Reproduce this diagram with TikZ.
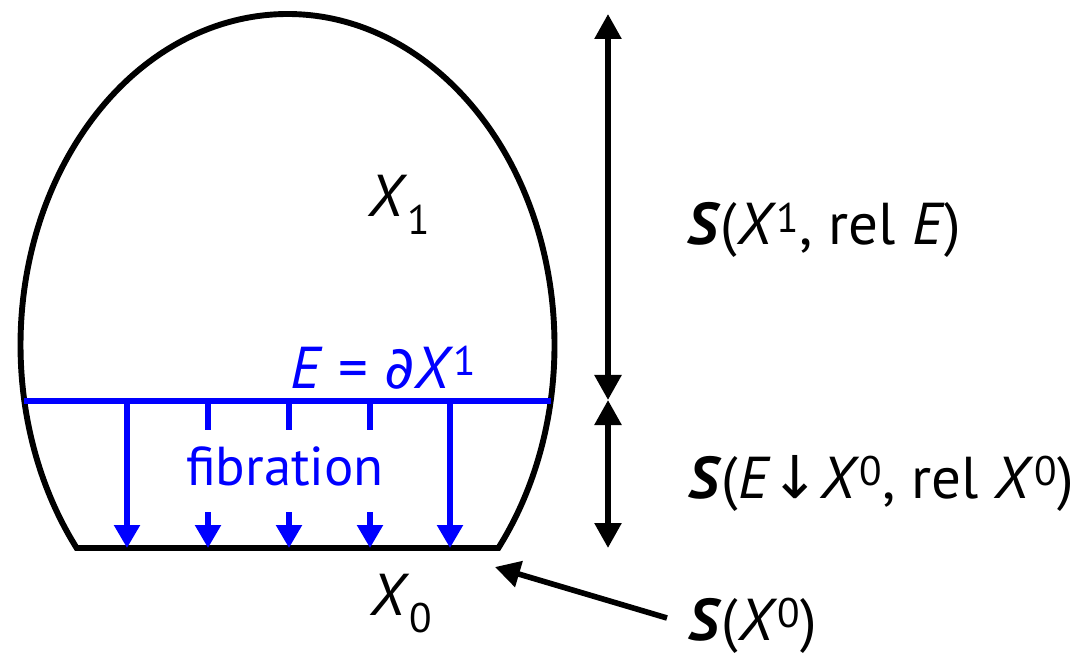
\documentclass[tikz,border=0pt]{standalone}
\usepackage{fontspec}
\setmainfont{PT Sans}
\newfontfamily\symfont{DejaVu Sans}
\usepackage{xcolor}
\usepackage{tikz}
\usetikzlibrary{arrows.meta,calc}
\definecolor{fibblue}{HTML}{0000FF}
\definecolor{fibink}{HTML}{000000}

\tikzset{
  lbl/.style={font=\fontsize{42}{50}\selectfont, text=fibink, inner sep=0pt},
  bluelbl/.style={lbl, text=fibblue},
  blk/.style={-{Triangle[length=0.625cm,width=0.65cm]}, line width=4pt, fibink},
  blkboth/.style={{Triangle[length=0.625cm,width=0.65cm]}-{Triangle[length=0.625cm,width=0.65cm]}, line width=4pt, fibink},
  fib/.style={-{Triangle[length=0.575cm,width=0.625cm]}, line width=3.8pt, fibblue},
  stub/.style={line width=3.8pt, fibblue}
}
\newcommand{\Sbf}{\textbf{\textit{S}}}

\begin{document}
\begin{tikzpicture}[x=1cm,y=1cm]
  \useasboundingbox (0,0) rectangle (26.95,16.5);

  % Outline of X
  \coordinate (c) at (7.1875,7.875);
  \draw[line width=4.2pt, fibink] ($(c)+(-37.83:6.675 and 8.275)$)
    arc[start angle=-37.83, end angle=217.83, x radius=6.675, y radius=8.275] -- cycle;

  % Boundary E
  \coordinate (eL) at ($(c)+(189.74:6.675 and 8.275)$);
  \coordinate (eR) at ($(c)+(-9.74:6.675 and 8.275)$);
  \draw[stub] (eL) -- (eR);

  % Fibres
  \foreach \x in {3.175,11.25} \draw[fib] (\x,6.475) -- (\x,2.8);
  \foreach \x in {5.2,7.225,9.25} {
    \draw[stub] (\x,6.475) -- (\x,5.75);
    \draw[fib] (\x,3.7) -- (\x,2.8);
  }

  % Labels inside
  \node[lbl, anchor=base west] (xone) at (9.2,11.075) {\textit{X}\textsubscript{1}};
  \node[bluelbl, anchor=base west] (edef) at (7.25,6.8) {\textit{E} = {\symfont\itshape ∂}\textit{X}\textsuperscript{1}};
  \node[bluelbl, anchor=base, font=\fontsize{39}{46}\selectfont] (fibtext) at (7.125,4.375) {fibration};
  \node[lbl, anchor=base west] (xzero) at (9.25,1.125) {\textit{X}\textsubscript{0}};

  % Right side: spaces
  \coordinate (top) at (15.2,16.15);
  \coordinate (mid) at (15.2,6.5);
  \coordinate (bot) at (15.2,2.8);
  \draw[blkboth] (top) -- (mid);
  \draw[blkboth] (mid) -- (bot);

  \node[lbl, anchor=base west] (srel) at (17.175,10.375) {\Sbf(\textit{X}\textsuperscript{1}, rel \textit{E})};
  \node[lbl, anchor=base west] (sfib) at (17.2,4.05) {\Sbf(\textit{E}{\symfont↓}\textit{X}\textsuperscript{0}, rel \textit{X}\textsuperscript{0})};
  \node[lbl, anchor=base west] (sxzero) at (17.2,0.5) {\Sbf(\textit{X}\textsuperscript{0})};

  \coordinate (tail) at (16.675,1.05);
  \coordinate (tip) at (12.375,2.325);
  \draw[blk] (tail) -- (tip);
\end{tikzpicture}
\end{document}
